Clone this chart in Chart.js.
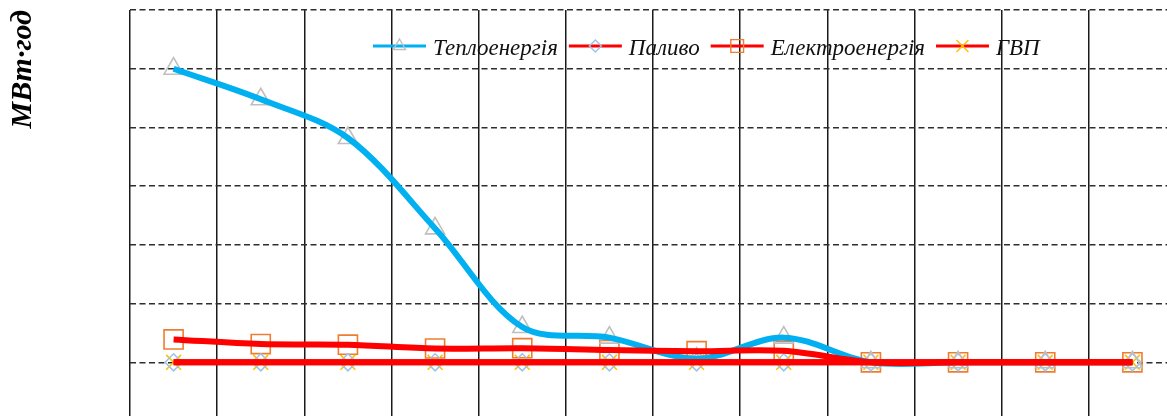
<!DOCTYPE html>
<html>
<head>
<meta charset="utf-8">
<script src="https://cdn.jsdelivr.net/npm/chart.js@4/dist/chart.umd.min.js"></script>
<style>
  html, body { margin: 0; padding: 0; background: #ffffff; }
  #view { position: relative; width: 1167px; height: 416px; overflow: hidden; }
  #c { position: absolute; left: 0; top: 0; }
</style>
</head>
<body>
<div id="view"><canvas id="c" width="1180" height="425"></canvas></div>
<script>
// Categories along the horizontal axis (labels are not shown on the plot)
const categories = ['1', '2', '3', '4', '5', '6', '7', '8', '9', '10', '11', '12'];

// Consumption, MWh per period
const teploenergiya   = [5000, 4480, 3820, 2280, 600, 420, 60, 420, 0, 0, 0, 0];
const palyvo          = [0, 0, 0, 0, 0, 0, 0, 0, 0, 0, 0, 0];
const elektroenergiya = [390, 310, 300, 235, 240, 210, 190, 195, 0, 0, 0, 0];
const gvp             = [0, 0, 0, 0, 0, 0, 0, 0, 0, 0, 0, 0];

const seriesNames = ['Теплоенергія', 'Паливо', 'Електроенергія', 'ГВП'];
const yAxisTitle = 'МВт·год';
const yMin = -1000, yMax = 6000, yStep = 1000;

// Per-series look: line colour and marker
const seriesStyle = [
  { line: '#00B0F0', marker: 'triangle', markerColor: '#BFBFBF', radius: 11,   legendRadius: 7 },
  { line: '#FF0000', marker: 'rectRot',  markerColor: '#9DC3E6', radius: 8.5,  legendRadius: 6 },
  { line: '#FF0000', marker: 'rect',     markerColor: '#ED7D31', radius: 13.5, legendRadius: 9 },
  { line: '#FF0000', marker: 'crossRot', markerColor: '#FFC000', radius: 10.5, legendRadius: 8.5 }
];
const seriesData = [teploenergiya, palyvo, elektroenergiya, gvp];

// Markers sit underneath, smoothed lines are drawn over them; later series on top
const datasets = [];
seriesData.forEach((data, i) => {
  const st = seriesStyle[i];
  datasets.push({
    label: seriesNames[i],
    data: data,
    borderColor: st.line,
    borderWidth: 6,
    pointRadius: 0,
    pointHoverRadius: 0,
    tension: 0.33,
    fill: false,
    order: 3 - i
  });
  datasets.push({
    label: seriesNames[i] + ' ·',
    data: data,
    showLine: false,
    pointStyle: st.marker,
    pointRadius: st.radius,
    pointHoverRadius: st.radius,
    pointBorderColor: st.markerColor,
    pointBackgroundColor: 'rgba(0,0,0,0)',
    pointBorderWidth: 1.6,
    order: 10 + i
  });
});

// Marker shapes for the legend keys (same geometry as Chart.js point styles)
function drawMarker(ctx, style, x, y, r) {
  ctx.beginPath();
  if (style === 'triangle') {
    let a = 0;
    ctx.moveTo(x + Math.sin(a) * r, y - Math.cos(a) * r);
    a += 2 * Math.PI / 3;
    ctx.lineTo(x + Math.sin(a) * r, y - Math.cos(a) * r);
    a += 2 * Math.PI / 3;
    ctx.lineTo(x + Math.sin(a) * r, y - Math.cos(a) * r);
    ctx.closePath();
  } else if (style === 'rectRot') {
    ctx.moveTo(x - r, y); ctx.lineTo(x, y - r); ctx.lineTo(x + r, y); ctx.lineTo(x, y + r);
    ctx.closePath();
  } else if (style === 'rect') {
    const s = Math.SQRT1_2 * r;
    ctx.rect(x - s, y - s, 2 * s, 2 * s);
  } else if (style === 'crossRot') {
    const s = Math.SQRT1_2 * r;
    ctx.moveTo(x - s, y - s); ctx.lineTo(x + s, y + s);
    ctx.moveTo(x - s, y + s); ctx.lineTo(x + s, y - s);
  }
  ctx.stroke();
}

// Legend drawn inside the plot area: a short line with the marker, then the name
const lineLegend = {
  id: 'lineLegend',
  afterDraw(chart, args, opts) {
    const ctx = chart.ctx;
    ctx.save();
    ctx.font = opts.font;
    ctx.textBaseline = 'alphabetic';
    let x = opts.x;
    const y = opts.y;
    seriesNames.forEach((name, i) => {
      const st = seriesStyle[i];
      ctx.strokeStyle = st.line;
      ctx.lineWidth = opts.lineWidth;
      ctx.beginPath();
      ctx.moveTo(x, y);
      ctx.lineTo(x + opts.lineLength, y);
      ctx.stroke();
      ctx.strokeStyle = st.markerColor;
      ctx.lineWidth = 1.4;
      drawMarker(ctx, st.marker, x + opts.lineLength / 2, y, st.legendRadius);
      x += opts.lineLength + opts.textGap;
      ctx.fillStyle = opts.color;
      ctx.fillText(name, x, y + opts.textDrop);
      x += ctx.measureText(name).width + opts.itemGap;
    });
    ctx.restore();
  }
};

new Chart(document.getElementById('c'), {
  type: 'line',
  data: { labels: categories, datasets: datasets },
  plugins: [lineLegend],
  options: {
    responsive: false,
    animation: false,
    devicePixelRatio: 1,
    layout: { autoPadding: false, padding: { top: 10, right: 4, bottom: 4, left: 0 } },
    plugins: {
      legend: { display: false },
      tooltip: { enabled: false },
      title: { display: false },
      lineLegend: {
        x: 373, y: 46,
        lineLength: 53, lineWidth: 3,
        textGap: 7, itemGap: 11, textDrop: 9,
        font: 'italic 23px "Liberation Serif"',
        color: '#111111'
      }
    },
    scales: {
      x: {
        type: 'category',
        offset: true,
        grid: { offset: true, color: '#1a1a1a', lineWidth: 1.5, drawTicks: false },
        border: { display: false },
        ticks: { display: false },
        afterFit(scale) { scale.height = 0; }
      },
      y: {
        min: yMin,
        max: yMax,
        ticks: { stepSize: yStep, display: false },
        grid: { color: '#2e2e2e', lineWidth: 1.4, drawTicks: false },
        border: { display: false, dash: [6, 3.5] },
        title: {
          display: true,
          text: yAxisTitle,
          align: 'end',
          color: '#000000',
          font: { family: 'Liberation Serif', size: 30, style: 'italic', weight: 'bold' },
          padding: { top: 5, bottom: 0 }
        },
        afterFit(scale) { scale.width = 130; }
      }
    }
  }
});
</script>
</body>
</html>
